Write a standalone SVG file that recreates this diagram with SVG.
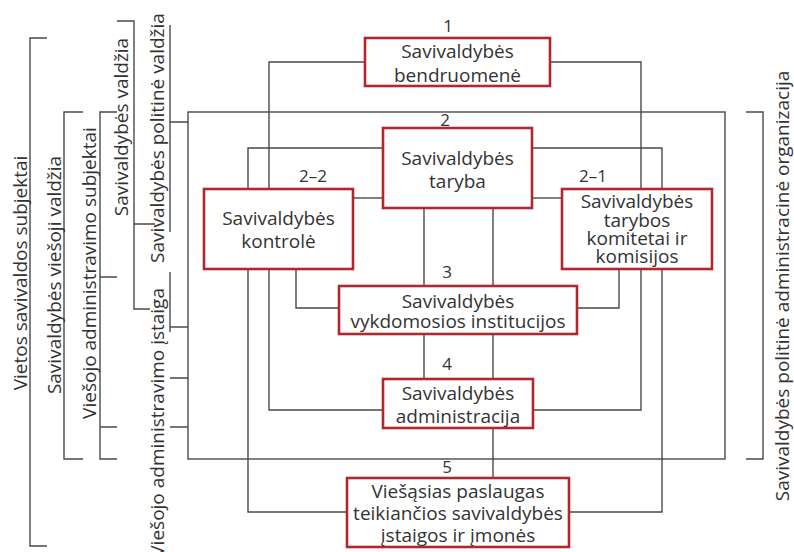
<svg xmlns="http://www.w3.org/2000/svg" width="794" height="552" viewBox="0 0 794 552">
<style>
.ln{fill:none;stroke:#4a4a4a;stroke-width:1.4}
.box{fill:#fff;stroke:#b3262c;stroke-width:2.6}
.t{font-family:"Open Sans","Noto Sans",sans-serif;font-size:19px;fill:#333;text-anchor:middle}
.n{font-family:"Open Sans","Noto Sans",sans-serif;font-size:17px;fill:#333;text-anchor:middle}
</style>
<rect width="794" height="552" fill="#fff"/>
<g id="connectors" class="ln">
<rect x="188" y="112" width="537" height="347"/>
<path d="M364,62 H269 V410 H382"/>
<path d="M551,62 H641 V410 H534"/>
<path d="M382,148 H248 V512 H346"/>
<path d="M533,148 H662 V512 H570"/>
<path d="M354,198 H382"/>
<path d="M533,198 H561"/>
<path d="M296,270 V308 H338"/>
<path d="M619,270 V308 H578"/>
<path d="M424,209 V285 M493,209 V285"/>
<path d="M424,335 V378 M493,335 V378"/>
<path d="M493,429 V477"/>
</g>
<g id="brackets" class="ln">
<path d="M47,38 H30 V546 H47"/>
<path d="M83,112 H64 V459 H83"/>
<path d="M117,112 H100 V459 H117 M100,277 H117 M100,427 H117"/>
<path d="M117,21 H134 V309 H150 M134,224 H155"/>
<path d="M170,25 V232 M170,122 H188"/>
<path d="M170,272 V332 M170,327 H188 M170,378 H188 M170,427 H188"/>
<path d="M746,112 H763 V459 H746"/>
</g>
<g id="side-labels" class="t">
<text transform="translate(27,273) rotate(-90)">Vietos savivaldos subjektai</text>
<text transform="translate(61,275) rotate(-90)">Savivaldybės viešoji valdžia</text>
<text transform="translate(96,273) rotate(-90)">Viešojo administravimo subjektai</text>
<text transform="translate(128,127) rotate(-90)">Savivaldybės valdžia</text>
<text transform="translate(164,138) rotate(-90)">Savivaldybės politinė valdžia</text>
<text transform="translate(164,288) rotate(-90)" style="text-anchor:end">Viešojo administravimo įstaiga</text>
<text transform="translate(789,286) rotate(-90)">Savivaldybės politinė administracinė organizacija</text>
</g>
<g id="node-1">
<text class="n" x="448" y="32">1</text>
<rect class="box" x="365" y="38" width="185" height="48"/>
<text class="t" x="457.5" y="58">Savivaldybės</text>
<text class="t" x="457.5" y="82">bendruomenė</text>
</g>
<g id="node-2">
<text class="n" x="445" y="126">2</text>
<rect class="box" x="383" y="128" width="149" height="80"/>
<text class="t" x="457.5" y="165">Savivaldybės</text>
<text class="t" x="457.5" y="188">taryba</text>
</g>
<g id="node-2-2">
<text class="n" x="313" y="182">2–2</text>
<rect class="box" x="204" y="189" width="149" height="80"/>
<text class="t" x="278.5" y="225">Savivaldybės</text>
<text class="t" x="278.5" y="248">kontrolė</text>
</g>
<g id="node-2-1">
<text class="n" x="593" y="182">2–1</text>
<rect class="box" x="562" y="189" width="150" height="80"/>
<text class="t" x="637" y="208">Savivaldybės</text>
<text class="t" x="637" y="227">tarybos</text>
<text class="t" x="637" y="245">komitetai ir</text>
<text class="t" x="637" y="263">komisijos</text>
</g>
<g id="node-3">
<text class="n" x="447" y="278">3</text>
<rect class="box" x="339" y="286" width="238" height="48"/>
<text class="t" x="458" y="308">Savivaldybės</text>
<text class="t" x="458" y="328">vykdomosios institucijos</text>
</g>
<g id="node-4">
<text class="n" x="447" y="370">4</text>
<rect class="box" x="383" y="379" width="150" height="49"/>
<text class="t" x="458" y="400">Savivaldybės</text>
<text class="t" x="458" y="423">administracija</text>
</g>
<g id="node-5">
<text class="n" x="447" y="473">5</text>
<rect class="box" x="347" y="478" width="222" height="69"/>
<text class="t" x="458" y="498">Viešąsias paslaugas</text>
<text class="t" x="458" y="520">teikiančios savivaldybės</text>
<text class="t" x="458" y="542">įstaigos ir įmonės</text>
</g>
</svg>
